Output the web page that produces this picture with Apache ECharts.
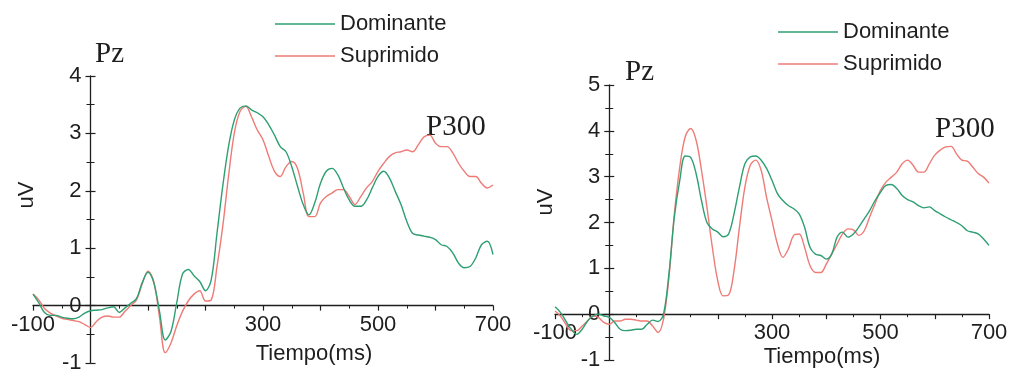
<!DOCTYPE html>
<html>
<head>
<meta charset="utf-8">
<script src="https://cdn.jsdelivr.net/npm/echarts@6/dist/echarts.min.js"></script>
<style>
  html, body { margin: 0; padding: 0; background: #ffffff; }
  #chart { width: 1012px; height: 375px; }
</style>
</head>
<body>
<div id="chart"></div>
<script>
// Sample times (ms), one every 10 ms
const timeMs = [
  -100, -90, -80, -70, -60, -50, -40, -30, -20, -10,
  0, 10, 20, 30, 40, 50, 60, 70, 80, 90,
  100, 110, 120, 130, 140, 150, 160, 170, 180, 190,
  200, 210, 220, 230, 240, 250, 260, 270, 280, 290,
  300, 310, 320, 330, 340, 350, 360, 370, 380, 390,
  400, 410, 420, 430, 440, 450, 460, 470, 480, 490,
  500, 510, 520, 530, 540, 550, 560, 570, 580, 590,
  600, 610, 620, 630, 640, 650, 660, 670, 680, 690,
  700
];

// Left panel (Pz) amplitudes in uV
const leftDominante = [
  0.20, 0.05, -0.12, -0.17, -0.17, -0.20, -0.22, -0.23, -0.20, -0.13,
  -0.09, -0.08, -0.07, -0.04, -0.02, -0.12, -0.04, 0.04, 0.12, 0.40,
  0.58, 0.40, -0.10, -0.60, -0.45, 0.05, 0.55, 0.63, 0.52, 0.42,
  0.26, 0.45, 1.26, 2.08, 2.77, 3.23, 3.44, 3.48, 3.41, 3.36,
  3.29, 3.15, 2.97, 2.77, 2.68, 2.42, 2.08, 1.76, 1.58, 1.79,
  2.13, 2.34, 2.39, 2.28, 2.05, 1.84, 1.73, 1.73, 1.84, 2.05,
  2.25, 2.34, 2.22, 1.99, 1.76, 1.47, 1.26, 1.23, 1.21, 1.19,
  1.15, 1.06, 1.03, 0.92, 0.74, 0.66, 0.68, 0.83, 1.06, 1.12,
  0.89
];
const leftSuprimido = [
  0.20, 0.10, -0.05, -0.13, -0.18, -0.22, -0.24, -0.26, -0.28, -0.33,
  -0.38, -0.28, -0.20, -0.18, -0.20, -0.20, -0.10, 0.00, 0.10, 0.38,
  0.60, 0.42, -0.20, -0.82, -0.65, -0.35, -0.10, 0.08, 0.20, 0.26,
  0.08, 0.10, 0.68, 1.38, 2.25, 3.00, 3.38, 3.47, 3.29, 3.06,
  2.89, 2.60, 2.34, 2.25, 2.42, 2.51, 2.39, 1.96, 1.55, 1.55,
  1.79, 1.90, 1.96, 2.02, 2.02, 1.90, 1.76, 1.90, 2.05, 2.16,
  2.34, 2.48, 2.60, 2.66, 2.68, 2.71, 2.68, 2.80, 2.94, 2.97,
  2.83, 2.77, 2.77, 2.66, 2.48, 2.34, 2.25, 2.25, 2.13, 2.05,
  2.10
];

// Right panel (Pz) amplitudes in uV
const rightDominante = [
  0.16, 0.04, -0.15, -0.33, -0.44, -0.33, -0.15, -0.04, 0.00, -0.04,
  -0.07, -0.18, -0.33, -0.36, -0.35, -0.33, -0.33, -0.22, -0.13, -0.16,
  0.00, 0.88, 2.12, 2.92, 3.45, 3.42, 3.07, 2.48, 2.00, 1.86,
  1.79, 1.69, 1.75, 2.19, 2.77, 3.28, 3.43, 3.45, 3.36, 3.18,
  2.92, 2.63, 2.48, 2.37, 2.30, 2.19, 1.90, 1.46, 1.31, 1.28,
  1.20, 1.31, 1.68, 1.79, 1.68, 1.75, 1.90, 2.08, 2.26, 2.48,
  2.66, 2.81, 2.83, 2.74, 2.59, 2.50, 2.45, 2.37, 2.32, 2.34,
  2.26, 2.19, 2.12, 2.06, 2.00, 1.93, 1.82, 1.79, 1.75, 1.64,
  1.50
];
const rightSuprimido = [
  0.07, -0.04, -0.22, -0.36, -0.36, -0.26, -0.15, -0.04, -0.07, -0.18,
  -0.22, -0.15, -0.15, -0.11, -0.11, -0.13, -0.15, -0.15, -0.26, -0.40,
  -0.11, 0.80, 2.19, 3.21, 3.87, 4.05, 3.80, 3.14, 2.34, 1.46,
  0.73, 0.40, 0.42, 0.95, 1.90, 2.77, 3.25, 3.36, 3.14, 2.55,
  2.04, 1.53, 1.24, 1.42, 1.72, 1.75, 1.46, 1.06, 0.91, 0.91,
  1.09, 1.31, 1.53, 1.75, 1.86, 1.84, 1.72, 1.82, 2.12, 2.41,
  2.70, 2.88, 2.99, 3.10, 3.28, 3.36, 3.25, 3.10, 3.10, 3.28,
  3.47, 3.58, 3.65, 3.66, 3.50, 3.36, 3.34, 3.21, 3.07, 2.99,
  2.86
];

// Axis ranges and the tick values that carry a printed label
const xRange = [-100, 700];
const xLabelValues = [-100, 300, 500, 700];
const leftYRange = [-1, 4];
const rightYRange = [-1, 5];
const leftYTicks = [-1, 0, 1, 2, 3, 4];
const rightYTicks = [-1, 0, 1, 2, 3, 4, 5];

const GREEN = '#2e9f72';
const RED = '#ee7b76';
const INK = '#1e1e1e';
const SANS = '"Liberation Sans", Arial, sans-serif';
const SERIF = '"Liberation Serif", "Times New Roman", serif';

// Plot boxes of the two panels
const grids = [
  { left: 33, width: 460, top: 76, height: 287 },
  { left: 555, width: 434, top: 85, height: 275 }
];
const yRanges = [leftYRange, rightYRange];

function pairs(values) {
  return timeMs.map((t, i) => [t, values[i]]);
}

// Shift the axes so that they cross at (0 ms, 0 uV)
function xAxisFor(gi) {
  const yr = yRanges[gi];
  const shift = grids[gi].height * (0 - yr[0]) / (yr[1] - yr[0]);
  return {
    type: 'value',
    gridIndex: gi,
    position: 'bottom',
    offset: -shift,
    min: xRange[0],
    max: xRange[1],
    interval: 100,
    axisLine: { onZero: false, lineStyle: { color: INK, width: 1.3 } },
    axisTick: { show: true, length: 5, lineStyle: { color: INK, width: 1.2 } },
    minorTick: { show: true, splitNumber: 2, length: 3, lineStyle: { color: INK, width: 1 } },
    splitLine: { show: false },
    axisLabel: {
      color: INK,
      fontFamily: SANS,
      fontSize: 22,
      margin: 8,
      formatter: v => (xLabelValues.indexOf(v) >= 0 ? String(v) : '')
    }
  };
}

// The y axis ticks cross the axis line: one axis carries the line, labels and
// outer ticks, a twin at the same place adds the inner half of each tick.
function yAxisFor(gi, ticks, innerHalf) {
  const yr = yRanges[gi];
  const shift = grids[gi].width * (0 - xRange[0]) / (xRange[1] - xRange[0]);
  return {
    type: 'value',
    gridIndex: gi,
    position: 'left',
    offset: -shift,
    min: yr[0],
    max: yr[1],
    interval: 1,
    axisLine: { show: !innerHalf, onZero: false, lineStyle: { color: INK, width: 1.3 } },
    axisTick: { show: true, inside: innerHalf, length: 5, lineStyle: { color: INK, width: 1.2 } },
    minorTick: { show: true, splitNumber: 2, length: 4, lineStyle: { color: INK, width: 1 } },
    splitLine: { show: false },
    axisLabel: {
      show: !innerHalf,
      inside: false,
      color: INK,
      fontFamily: SANS,
      fontSize: 22,
      margin: 9,
      formatter: v => (ticks.indexOf(v) >= 0 ? String(v) : '')
    }
  };
}

function line(name, values, xi, yi, color) {
  return {
    name: name,
    type: 'line',
    xAxisIndex: xi,
    yAxisIndex: yi,
    data: pairs(values),
    smooth: 0.35,
    showSymbol: false,
    symbol: 'none',
    lineStyle: { color: color, width: 1.4 },
    itemStyle: { color: color },
    silent: true,
    z: name === 'Suprimido' ? 3 : 4
  };
}

function text(str, x, y, font, size) {
  return {
    type: 'text',
    x: x,
    y: y,
    silent: true,
    style: {
      text: str,
      fill: INK,
      font: size + 'px ' + font,
      align: 'left',
      verticalAlign: 'top'
    }
  };
}

function rotated(str, cx, cy) {
  return {
    type: 'text',
    x: cx,
    y: cy,
    rotation: Math.PI / 2,
    silent: true,
    style: {
      text: str,
      fill: INK,
      font: '22px ' + SANS,
      align: 'center',
      verticalAlign: 'middle'
    }
  };
}

function centered(str, cx, cy) {
  return {
    type: 'text',
    x: cx,
    y: cy,
    silent: true,
    style: {
      text: str,
      fill: INK,
      font: '22px ' + SANS,
      align: 'center',
      verticalAlign: 'middle'
    }
  };
}

const chart = echarts.init(document.getElementById('chart'), null, { renderer: 'canvas' });

const legendBase = {
  orient: 'vertical',
  icon: 'rect',
  itemWidth: 60,
  itemHeight: 1.5,
  itemGap: 10,
  selectedMode: false,
  data: ['Dominante', 'Suprimido'],
  textStyle: { color: INK, fontFamily: SANS, fontSize: 22 }
};

chart.setOption({
  backgroundColor: '#ffffff',
  animation: false,
  grid: grids.map(g => Object.assign({ containLabel: false, outerBoundsMode: 'none' }, g)),
  legend: [
    Object.assign({ left: 270, top: 8 }, legendBase),
    Object.assign({ left: 773, top: 16 }, legendBase)
  ],
  xAxis: [xAxisFor(0), xAxisFor(1)],
  yAxis: [
    yAxisFor(0, leftYTicks, false),
    yAxisFor(1, rightYTicks, false),
    yAxisFor(0, leftYTicks, true),
    yAxisFor(1, rightYTicks, true)
  ],
  series: [
    line('Dominante', leftDominante, 0, 0, GREEN),
    line('Suprimido', leftSuprimido, 0, 0, RED),
    line('Dominante', rightDominante, 1, 1, GREEN),
    line('Suprimido', rightSuprimido, 1, 1, RED)
  ],
  graphic: [
    text('Pz', 95, 40, SERIF, 29),
    text('P300', 426, 113, SERIF, 29),
    text('Pz', 625, 58, SERIF, 29),
    text('P300', 935, 115, SERIF, 29),
    rotated('uV', 27, 195),
    rotated('uV', 546, 202),
    centered('Tiempo(ms)', 314, 354),
    centered('Tiempo(ms)', 822, 357)
  ]
});
</script>
</body>
</html>
